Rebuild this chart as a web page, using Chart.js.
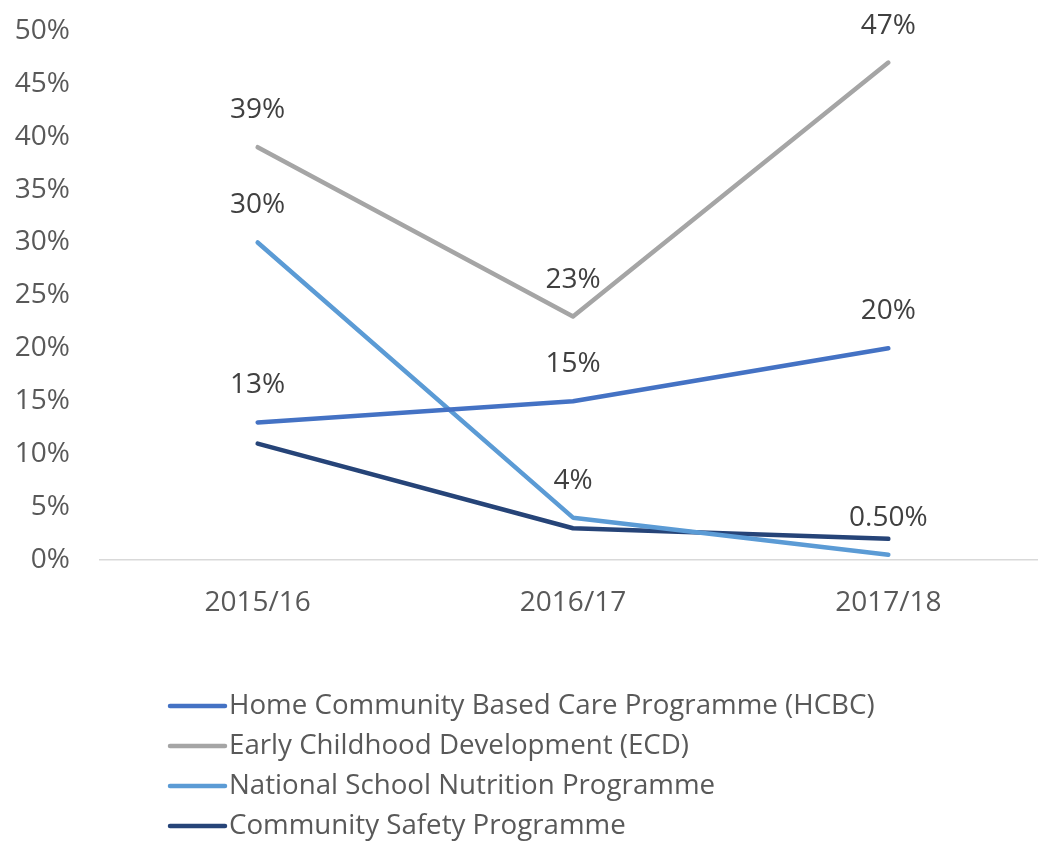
<!DOCTYPE html>
<html>
<head>
<meta charset="utf-8">
<script src="https://cdn.jsdelivr.net/npm/chart.js@4.4.0/dist/chart.umd.min.js"></script>
<style>
  html, body { margin: 0; padding: 0; background: #fff; overflow: hidden; }
  #wrap { width: 1046px; height: 858px; margin-top: -16px; }
</style>
</head>
<body>
<div id="wrap"><canvas id="myChart"></canvas></div>
<script>
const years = ["2015/16", "2016/17", "2017/18"];
const hcbc = [13, 15, 20];
const ecd = [39, 23, 47];
const nsnp = [30, 4, 0.5];
const csp = [11, 3, 2];
const hcbcLabels = ["13%", "15%", "20%"];
const ecdLabels = ["39%", "23%", "47%"];
const nsnpLabels = ["30%", "4%", "0.50%"];
const cspLabels = [null, null, null];
const seriesNames = [
  "Home Community Based Care Programme (HCBC)",
  "Early Childhood Development (ECD)",
  "National School Nutrition Programme",
  "Community Safety Programme"
];

const FONT = "'Open Sans', sans-serif";
const SHIFT = 16; // canvas is pulled up by this much

// labels above each point
const pointLabels = {
  id: "pointLabels",
  afterDatasetsDraw(chart) {
    const ctx = chart.ctx;
    ctx.save();
    ctx.font = "28px " + FONT;
    ctx.fillStyle = "#404040";
    ctx.textAlign = "center";
    ctx.textBaseline = "middle";
    chart.data.datasets.forEach((ds, i) => {
      const meta = chart.getDatasetMeta(i);
      meta.data.forEach((pt, j) => {
        const txt = ds.valueLabels[j];
        if (!txt) return;
        ctx.fillText(txt, pt.x, pt.y - 37);
      });
    });
    ctx.restore();
  }
};

// vertical legend under the plot
const stackedLegend = {
  id: "stackedLegend",
  afterDraw(chart) {
    const ctx = chart.ctx;
    ctx.save();
    ctx.font = "27.7px " + FONT;
    ctx.textBaseline = "middle";
    ctx.textAlign = "left";
    chart.data.datasets.forEach((ds, i) => {
      const y = 706 + SHIFT + i * 40;
      ctx.strokeStyle = ds.borderColor;
      ctx.lineWidth = 4.5;
      ctx.lineCap = "round";
      ctx.beginPath();
      ctx.moveTo(170, y);
      ctx.lineTo(225, y);
      ctx.stroke();
      ctx.fillStyle = "#595959";
      ctx.fillText(ds.label, 229, y);
    });
    ctx.restore();
  }
};

function line(label, data, color, valueLabels) {
  return {
    label: label,
    data: data,
    borderColor: color,
    backgroundColor: color,
    borderWidth: 4.5,
    borderCapStyle: "round",
    borderJoinStyle: "round",
    pointRadius: 0,
    tension: 0,
    valueLabels: valueLabels
  };
}

new Chart(document.getElementById("myChart"), {
  type: "line",
  data: {
    labels: years,
    datasets: [
      line(seriesNames[0], hcbc, "#4472C4", hcbcLabels),
      line(seriesNames[1], ecd, "#A5A5A5", ecdLabels),
      line(seriesNames[2], nsnp, "#5B9BD5", nsnpLabels),
      line(seriesNames[3], csp, "#264478", cspLabels)
    ]
  },
  options: {
    responsive: true,
    maintainAspectRatio: false,
    animation: false,
    layout: { padding: { top: 14, right: 0, left: 0, bottom: 0 } },
    plugins: {
      legend: { display: false },
      tooltip: { enabled: false }
    },
    scales: {
      x: {
        offset: true,
        grid: { display: false, drawTicks: false },
        border: { display: true, color: "#D9D9D9", width: 1.5 },
        ticks: { color: "#595959", font: { family: FONT, size: 28 }, padding: 26 },
        afterFit(scale) { scale.height = 282; }
      },
      y: {
        min: 0,
        max: 50,
        grid: { display: false, drawTicks: false },
        border: { display: false },
        ticks: {
          stepSize: 5,
          color: "#595959",
          font: { family: FONT, size: 28 },
          padding: 30,
          callback: v => v + "%"
        },
        afterFit(scale) { scale.width = 100; }
      }
    }
  },
  plugins: [pointLabels, stackedLegend]
});
</script>
</body>
</html>
